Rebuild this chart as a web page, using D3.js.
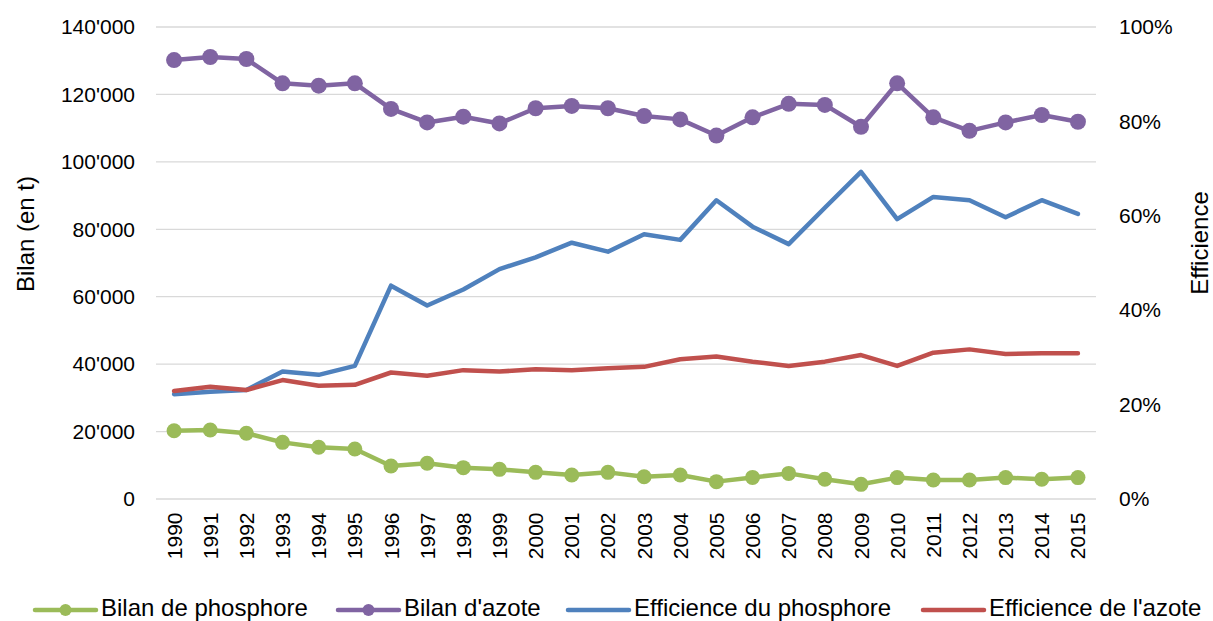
<!DOCTYPE html>
<html>
<head>
<meta charset="utf-8">
<script src="https://cdn.jsdelivr.net/npm/d3@7"></script>
<style>
  html, body { margin: 0; padding: 0; background: #fff; }
  svg { display: block; font-family: "Liberation Sans", Arial, sans-serif; }
</style>
</head>
<body>
<svg id="chart" width="1213" height="621"></svg>
<script>
const years = ["1990","1991","1992","1993","1994","1995","1996","1997","1998","1999","2000","2001","2002","2003","2004","2005","2006","2007","2008","2009","2010","2011","2012","2013","2014","2015"];
const bilanPhosphore = [20250,20450,19500,16800,15350,14850,9800,10600,9300,8800,7900,7100,7900,6600,7100,5150,6400,7600,5850,4350,6350,5650,5650,6350,5850,6350];
const bilanAzote = [130200,131100,130500,123300,122600,123300,115700,111700,113400,111400,115900,116600,115900,113600,112600,107800,113200,117200,116900,110400,123300,113200,109200,111700,113900,111900];
const efficiencePhosphore = [0.222,0.227,0.231,0.270,0.263,0.282,0.452,0.410,0.444,0.487,0.512,0.543,0.524,0.561,0.549,0.633,0.577,0.540,0.617,0.693,0.593,0.640,0.633,0.597,0.633,0.604];
const efficienceAzote = [0.229,0.238,0.231,0.252,0.240,0.242,0.268,0.261,0.273,0.270,0.275,0.273,0.277,0.280,0.296,0.302,0.291,0.282,0.291,0.305,0.282,0.310,0.317,0.307,0.309,0.309];
const leftTicks = [0,20000,40000,60000,80000,100000,120000,140000];
const rightTicks = [0,0.2,0.4,0.6,0.8,1.0];

const svg = d3.select("#chart");
const plot = { left: 156, right: 1096, top: 27, bottom: 499 };

const x = d3.scaleBand().domain(years).range([plot.left, plot.right]);
const yL = d3.scaleLinear().domain([0,140000]).range([plot.bottom, plot.top]);
const yR = d3.scaleLinear().domain([0,1]).range([plot.bottom, plot.top]);
const cx = d => x(d) + x.bandwidth()/2;

const fmtL = v => d3.format(",")(v).replace(/,/g, "'");
const fmtR = d3.format(".0%");

// gridlines
svg.append("g").selectAll("line").data(leftTicks).join("line")
  .attr("x1", plot.left).attr("x2", plot.right)
  .attr("y1", d => yL(d)).attr("y2", d => yL(d))
  .attr("stroke", "#d9d9d9").attr("stroke-width", 1.3);

// left axis
const gL = svg.append("g").attr("transform", `translate(${plot.left},0)`)
  .call(d3.axisLeft(yL).tickValues(leftTicks).tickFormat(fmtL).tickSize(0).tickPadding(21));
gL.select(".domain").remove();
gL.selectAll("text").attr("font-size", 21).attr("fill", "#000").attr("font-family", "Liberation Sans, Arial, sans-serif");

// right axis
const gR = svg.append("g").attr("transform", `translate(${plot.right},0)`)
  .call(d3.axisRight(yR).tickValues(rightTicks).tickFormat(fmtR).tickSize(0).tickPadding(23));
gR.select(".domain").remove();
gR.selectAll("text").attr("font-size", 21).attr("fill", "#000").attr("font-family", "Liberation Sans, Arial, sans-serif");

// bottom axis
const gB = svg.append("g").attr("transform", `translate(0,${plot.bottom})`)
  .call(d3.axisBottom(x).tickSize(0).tickPadding(0));
gB.select(".domain").remove();
gB.selectAll("text")
  .attr("font-size", 21).attr("fill", "#000").attr("font-family", "Liberation Sans, Arial, sans-serif")
  .attr("text-anchor", "end").attr("dominant-baseline", "central")
  .attr("transform", "translate(0,13.5) rotate(-90)").attr("x", 0).attr("y", 0).attr("dy", null);

// axis titles
svg.append("text").attr("transform", "translate(25,234) rotate(-90)")
  .attr("text-anchor", "middle").attr("dominant-baseline", "central")
  .attr("font-size", 24).text("Bilan (en t)");
svg.append("text").attr("transform", "translate(1199,243) rotate(-90)")
  .attr("text-anchor", "middle").attr("dominant-baseline", "central")
  .attr("font-size", 24).text("Efficience");

const series = [
  { name: "Bilan de phosphore", values: bilanPhosphore, scale: yL, color: "#9bbb59", marker: true, r: 7.5 },
  { name: "Bilan d'azote", values: bilanAzote, scale: yL, color: "#8064a2", marker: true, r: 8 },
  { name: "Efficience du phosphore", values: efficiencePhosphore, scale: yR, color: "#4f81bd", marker: false },
  { name: "Efficience de l'azote", values: efficienceAzote, scale: yR, color: "#c0504d", marker: false }
];

series.forEach(s => {
  const line = d3.line().x((d,i) => cx(years[i])).y(d => s.scale(d));
  svg.append("path").datum(s.values).attr("d", line)
    .attr("fill", "none").attr("stroke", s.color).attr("stroke-width", 4.5)
    .attr("stroke-linejoin", "round").attr("stroke-linecap", "round");
  if (s.marker) {
    svg.append("g").selectAll("circle").data(s.values).join("circle")
      .attr("cx", (d,i) => cx(years[i])).attr("cy", d => s.scale(d))
      .attr("r", s.r).attr("fill", s.color);
  }
});

// legend
const legendX = [35, 338, 568, 923];
const legendY = 610;
series.forEach((s, i) => {
  const g = svg.append("g").attr("transform", `translate(${legendX[i]},${legendY})`);
  g.append("line").attr("x1", 0).attr("x2", 61).attr("y1", 0).attr("y2", 0)
    .attr("stroke", s.color).attr("stroke-width", 4.5).attr("stroke-linecap", "round");
  if (s.marker) g.append("circle").attr("cx", 30.5).attr("cy", 0).attr("r", 6).attr("fill", s.color);
  g.append("text").attr("x", 66).attr("y", 5.5).attr("font-size", 24).attr("fill", "#000").text(s.name);
});
</script>
</body>
</html>
